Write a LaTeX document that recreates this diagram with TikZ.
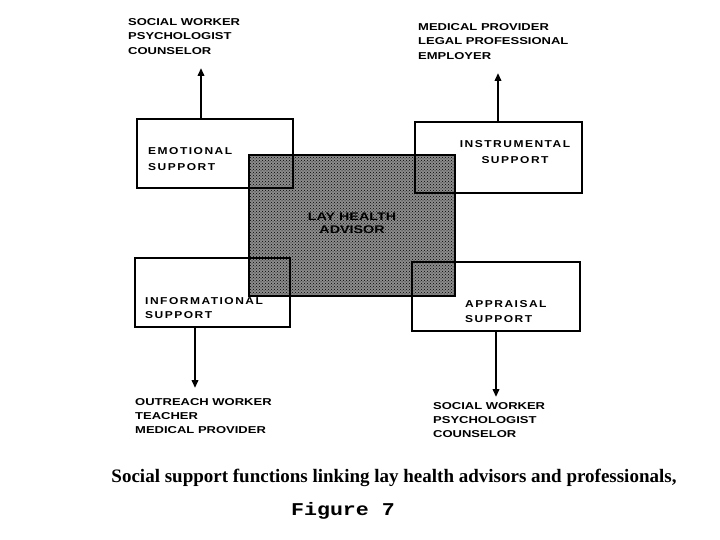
\documentclass[tikz,border=0pt]{standalone}
\usepackage{fontspec}
\setmainfont{Liberation Serif}
\newfontfamily\lblfont{Liberation Sans}[FakeStretch=1.3]
\newfontfamily\boxfont{Liberation Sans}[FakeStretch=1.2,LetterSpace=15]
\newfontfamily\figfont{Liberation Mono}[FakeStretch=1.2]
\usetikzlibrary{patterns,arrows.meta}
\tikzset{
  box/.style={draw, line width=2.4pt, inner sep=0pt},
  lbl/.style={anchor=north west, inner sep=0pt, align=left,
    font=\lblfont\bfseries\fontsize{10}{14.5}\selectfont},
  boxlbl/.style={inner sep=0pt, align=left,
    font=\boxfont\bfseries\fontsize{10}{16}\selectfont},
  arr/.style={line width=2.2pt, -{Triangle[length=8pt,width=6.5pt]}},
}
\begin{document}
\begin{tikzpicture}[x=1pt,y=-1pt]
\useasboundingbox (0,0) rectangle (720,540);
% centre: lay health advisor
\fill[black!45] (249,155) rectangle (455,296);
\fill[pattern=crosshatch dots, pattern color=black] (249,155) rectangle (455,296);
\node[box, minimum width=206pt, minimum height=141pt] (lha) at (352,225.5) {};
% four support boxes
\node[box, minimum width=156pt, minimum height=69pt] (emo) at (215,153.5) {};
\node[box, minimum width=167pt, minimum height=71pt] (inst) at (498.5,157.5) {};
\node[box, minimum width=155pt, minimum height=69pt] (info) at (212.5,292.5) {};
\node[box, minimum width=168pt, minimum height=69pt] (appr) at (496,296.5) {};
% centre text
\node[inner sep=0pt, align=center, font=\lblfont\bfseries\fontsize{11}{13}\selectfont] (lhat) at (352,223) {LAY HEALTH\\ADVISOR};
% box texts
\node[boxlbl, anchor=north west] (emot) at (148,147) {EMOTIONAL\\SUPPORT};
\node[boxlbl, anchor=north, align=center] (instt) at (515,140) {INSTRUMENTAL\\SUPPORT};
\node[boxlbl, anchor=north west, font=\boxfont\bfseries\fontsize{10}{14}\selectfont] (infot) at (145,297) {INFORMATIONAL\\SUPPORT};
\node[boxlbl, anchor=north west, font=\boxfont\bfseries\fontsize{10}{15}\selectfont] (apprt) at (465,300) {APPRAISAL\\SUPPORT};
% professionals
\node[lbl] (tl) at (128,18) {SOCIAL WORKER\\PSYCHOLOGIST\\COUNSELOR};
\node[lbl] (tr) at (418,23) {MEDICAL PROVIDER\\LEGAL PROFESSIONAL\\EMPLOYER};
\node[lbl, font=\lblfont\bfseries\fontsize{10}{14}\selectfont] (bl) at (135,398) {OUTREACH WORKER\\TEACHER\\MEDICAL PROVIDER};
\node[lbl, font=\lblfont\bfseries\fontsize{10}{14}\selectfont] (br) at (433,402) {SOCIAL WORKER\\PSYCHOLOGIST\\COUNSELOR};
% arrows
\coordinate (a1) at (201,68);
\coordinate (a2) at (498,73);
\coordinate (a3) at (195,388);
\coordinate (a4) at (496,397);
\draw[arr] (a1 |- emo.north) -- (a1);
\draw[arr] (a2 |- inst.north) -- (a2);
\draw[arr] (a3 |- info.south) -- (a3);
\draw[arr] (a4 |- appr.south) -- (a4);
% caption
\node[inner sep=0pt, font=\bfseries\fontsize{19}{22}\selectfont] (cap) at (394,478) {Social support functions linking lay health advisors and professionals,};
\node[inner sep=0pt, font=\figfont\bfseries\fontsize{18}{20}\selectfont] (fig) at (343,511) {Figure 7};
\end{tikzpicture}
\end{document}
